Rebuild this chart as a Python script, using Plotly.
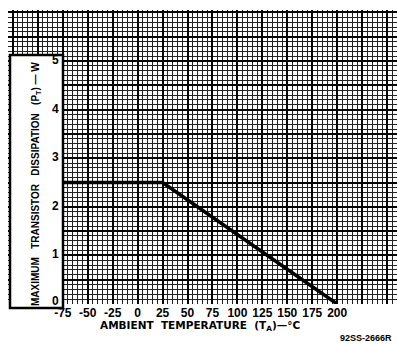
import plotly.graph_objects as go

# Data: derating curve
temp_c = [-75, 25, 200]
power_w = [2.5, 2.5, 0]

# Tick labels
x_tick_labels = [-75, -50, -25, 0, 25, 50, 75, 100, 125, 150, 175, 200]
y_tick_labels = [0, 1, 2, 3, 4, 5]

# Grid (graph paper) positions
x_major_grid = list(range(-125, 251, 25))
y_major_grid = [i * 0.5 for i in range(13)]

W, H = 397, 344
L, R, T, B = 8, 0, 10, 40
x_range = [-130, 260]
y_range = [0, 6.05]
plot_w = W - L - R
plot_h = H - T - B

def px_x(p):
    return (p - L) / plot_w

def px_y(p):
    return (H - B - p) / plot_h

FONT = "Liberation Sans Narrow, Arial Narrow, Liberation Sans, Arial, sans-serif"
TFONT = "DejaVu Sans, sans-serif"

fig = go.Figure(
    go.Scatter(x=temp_c, y=power_w, mode="lines",
               line=dict(color="black", width=3.5), hoverinfo="skip")
)

annotations = [
    dict(text=f"<b>{v}</b>", xref="paper", yref="y", x=px_x(61), y=v,
         xanchor="right", yanchor="middle", yshift=(3 if v == 0 else 1),
         showarrow=False, font=dict(family=FONT, size=12, color="black"))
    for v in y_tick_labels
]
annotations += [
    dict(text="<b>AMBIENT  TEMPERATURE  (T<sub>A</sub>)—°C</b>",
         xref="paper", yref="paper", x=px_x(200), y=px_y(326),
         xanchor="center", yanchor="middle", showarrow=False,
         font=dict(family=TFONT, size=10.5, color="black")),
    dict(text="<b>MAXIMUM\u00a0\u00a0\u00a0TRANSISTOR\u00a0\u00a0\u00a0DISSIPATION\u00a0\u00a0\u00a0(P<sub>T</sub>)\u00a0—\u00a0W</b>",
         xref="paper", yref="paper", x=px_x(36), y=px_y(184),
         xanchor="center", yanchor="middle", showarrow=False, textangle=-90,
         font=dict(family=FONT, size=10, color="black")),
    dict(text="<b>92SS-2666R</b>",
         xref="paper", yref="paper", x=px_x(338), y=px_y(338),
         xanchor="left", yanchor="middle", showarrow=False,
         font=dict(family=FONT, size=9, color="black")),
]

fig.update_layout(
    width=W, height=H,
    margin=dict(l=L, r=R, t=T, b=B),
    plot_bgcolor="white", paper_bgcolor="white",
    showlegend=False,
    font=dict(family=FONT, color="black"),
    xaxis=dict(
        range=x_range,
        tickmode="array",
        tickvals=x_major_grid,
        ticktext=[f"<b>{v}</b>" if v in x_tick_labels else " " for v in x_major_grid],
        tickfont=dict(family=FONT, size=12, color="black"),
        showgrid=True, gridcolor="black", gridwidth=2,
        zeroline=False, showline=False, ticks="",
        minor=dict(tickmode="linear", tick0=0, dtick=5, showgrid=True,
                   gridcolor="#222222", gridwidth=1),
    ),
    yaxis=dict(
        range=y_range,
        tickmode="array",
        tickvals=y_major_grid,
        showticklabels=False,
        showgrid=True, gridcolor="black", gridwidth=2,
        zeroline=False, showline=False, ticks="",
        minor=dict(tickmode="linear", tick0=0, dtick=0.1, showgrid=True,
                   gridcolor="#222222", gridwidth=1),
    ),
    shapes=[
        dict(type="rect", xref="paper", yref="paper",
             x0=px_x(10), x1=px_x(63), y0=px_y(308), y1=px_y(55),
             fillcolor="white", line=dict(color="black", width=2.5),
             layer="above"),
    ],
    annotations=annotations,
)

fig.write_html("out.html")
